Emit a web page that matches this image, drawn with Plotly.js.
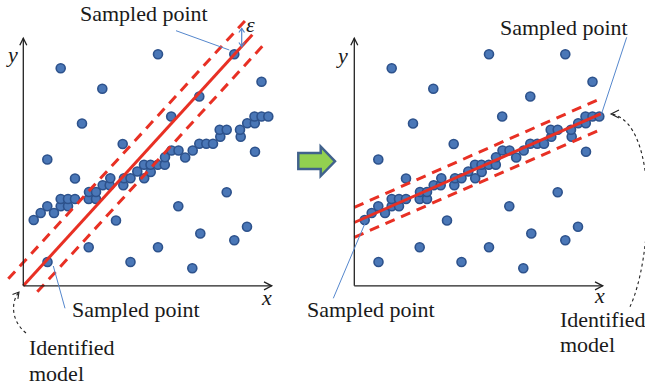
<!DOCTYPE html>
<html>
<head>
<meta charset="utf-8">
<script src="https://cdn.plot.ly/plotly-3.0.1.min.js"></script>
<style>html,body{margin:0;padding:0;background:#fff;}#chart{width:645px;height:389px;}</style>
</head>
<body>
<div id="chart"></div>
<script>
// Point cloud (same data shown in both panels), units: axis-length scale
const inlierX = [10.4,17.4,30.7,24.0,37.4,44.7,37.4,44.7,51.7,65.4,72.7,65.7,72.7,79.4,86.4,100.0,87.0,100.7,107.2,120.9,114.0,127.4,120.7,127.2,134.5,141.5,141.7,161.9,148.2,155.2,169.4,176.0,183.0,189.7,197.0,217.4,196.4,203.4,216.7,223.9,231.5,231.2,238.2,245.0];
const inlierY = [65.8,72.8,72.8,79.5,79.5,79.5,86.8,86.8,86.8,86.8,86.8,93.8,93.8,100.5,100.5,100.5,107.5,107.5,107.5,107.5,114.3,113.8,121.0,121.0,121.0,121.0,128.5,128.3,135.3,135.3,135.3,142.0,142.0,142.0,149.1,149.0,156.0,156.0,156.0,162.5,162.5,169.3,169.3,169.3];
const outlierX = [37.4,79.0,58.7,99.4,24.0,51.7,134.7,211.0,238.2,176.0,147.9,231.7,203.4,155.0,92.7,177.0,223.7,211.0,65.4,134.7,107.2,169.0,24.2];
const outlierY = [217.5,197.1,162.3,141.8,126.3,107.3,231.5,231.5,204.1,189.3,169.3,134.1,93.6,79.6,65.3,52.3,59.0,45.5,38.5,38.5,23.8,17.6,23.8];

// Candidate model (left) and identified model (right), with ±epsilon bands
const leftModelX = [0, 229];
const leftModelY = [0, 251];
const leftUpperX = [-15, 221.7];
const leftUpperY = [7, 265];
const leftLowerX = [14, 241.7];
const leftLowerY = [-6, 242.5];

const rightModelX = [0, 246.4];
const rightModelY = [63.3, 172];
const rightUpperX = [0, 247.4];
const rightUpperY = [78.5, 187.7];
const rightLowerX = [0, 247.4];
const rightLowerY = [48.5, 156.7];

const labelSampled = 'Sampled point';
const labelIdentified = 'Identified';
const labelModel = 'model';

const RED = 'rgb(232,48,36)';
const BLUE_LEADER = 'rgb(85,135,205)';
const TXT = '#1a1a1a';
const FONT = '"Liberation Serif", "Times New Roman", "DejaVu Serif", serif';

const allX = inlierX.concat(outlierX);
const allY = inlierY.concat(outlierY);

function pts(xa, ya) {
  return {x: allX, y: allY, xaxis: xa, yaxis: ya, mode: 'markers', type: 'scatter',
    marker: {size: 9, color: '#4a77b7', line: {color: '#2d528c', width: 1.6}},
    hoverinfo: 'skip', showlegend: false, cliponaxis: false};
}
function ln(x, y, xa, ya, dash) {
  return {x: x, y: y, xaxis: xa, yaxis: ya, mode: 'lines', type: 'scatter',
    line: {color: RED, width: 3, dash: dash ? '10px,7px' : 'solid'},
    hoverinfo: 'skip', showlegend: false};
}

const data = [
  pts('x', 'y'), pts('x2', 'y2'),
  ln(leftModelX, leftModelY, 'x', 'y', false),
  ln(leftUpperX, leftUpperY, 'x', 'y', true),
  ln(leftLowerX, leftLowerY, 'x', 'y', true),
  ln(rightModelX, rightModelY, 'x2', 'y2', false),
  ln(rightUpperX, rightUpperY, 'x2', 'y2', true),
  ln(rightLowerX, rightLowerY, 'x2', 'y2', true)
];

function ax(domain, range, anchor) {
  return {domain: domain, range: range, anchor: anchor, visible: false, fixedrange: true,
    showgrid: false, zeroline: false};
}

function txt(x, y, xr, yr, t, opts) {
  return Object.assign({x: x, y: y, xref: xr, yref: yr, text: t, showarrow: false,
    font: {family: FONT, size: 22, color: TXT}, xanchor: 'center', yanchor: 'middle'}, opts || {});
}

const axisLine = {color: '#222', width: 1.3};
const shapes = [
  // left axes
  {type: 'line', xref: 'x', yref: 'y', x0: 0, y0: 0, x1: 0, y1: 247.5, line: axisLine},
  {type: 'line', xref: 'x', yref: 'y', x0: 0, y0: 0, x1: 248.4, y1: 0, line: axisLine},
  {type: 'path', xref: 'x', yref: 'y', path: 'M -3.5,240.5 L 0,247.5 L 3.5,240.5', line: axisLine},
  {type: 'path', xref: 'x', yref: 'y', path: 'M 240.7,4 L 248.4,0 L 240.7,-4', line: axisLine},
  // right axes
  {type: 'line', xref: 'x2', yref: 'y2', x0: 0, y0: 0, x1: 0, y1: 247.5, line: axisLine},
  {type: 'line', xref: 'x2', yref: 'y2', x0: 0, y0: 0, x1: 248.4, y1: 0, line: axisLine},
  {type: 'path', xref: 'x2', yref: 'y2', path: 'M -3.5,240.5 L 0,247.5 L 3.5,240.5', line: axisLine},
  {type: 'path', xref: 'x2', yref: 'y2', path: 'M 240.7,4 L 248.4,0 L 240.7,-4', line: axisLine},
  // leaders
  {type: 'line', xref: 'x', yref: 'y', x0: 152.7, y0: 255.1, x1: 206, y1: 235.8, line: {color: BLUE_LEADER, width: 1}},
  {type: 'line', xref: 'x', yref: 'y', x0: 30, y0: 19.8, x1: 41.7, y1: -22.5, line: {color: BLUE_LEADER, width: 1}},
  {type: 'line', xref: 'x2', yref: 'y2', x0: 272.4, y0: 248.5, x1: 247.4, y1: 172.5, line: {color: BLUE_LEADER, width: 1}},
  {type: 'line', xref: 'x2', yref: 'y2', x0: 10.7, y0: 62.5, x1: -21, y1: -12.5, line: {color: BLUE_LEADER, width: 1}},
  // epsilon double arrow
  {type: 'line', xref: 'x', yref: 'y', x0: 218.4, y0: 239.5, x1: 218.4, y1: 257.3, line: {color: BLUE_LEADER, width: 1.2}},
  {type: 'path', xref: 'x', yref: 'y', path: 'M 215.6,253.3 L 218.4,257.5 L 221.2,253.3', line: {color: BLUE_LEADER, width: 1.2}},
  {type: 'path', xref: 'x', yref: 'y', path: 'M 215.6,243.3 L 218.4,239.1 L 221.2,243.3', line: {color: BLUE_LEADER, width: 1.2}},
  // identified model dashed curved arrows
  {type: 'path', xref: 'x', yref: 'y', path: 'M 2.7,-47.2 C -11.3,-36.2 -13.3,-17.2 -4.3,-6.2', line: {color: '#222', width: 1.1, dash: '3px,3px'}},
  {type: 'path', xref: 'x', yref: 'y', path: 'M -5.4,-13 L -4.3,-6.2 L -10.8,-8.6', line: {color: '#222', width: 1.1}},
  {type: 'path', xref: 'x2', yref: 'y2', path: 'M 275.7,-20.9 C 297.7,25.8 305.7,160.8 257.7,171.8', line: {color: '#222', width: 1.1, dash: '3px,3px'}},
  {type: 'path', xref: 'x2', yref: 'y2', path: 'M 264.7,175.8 L 256.7,171.8 L 264.7,167.8', line: {color: '#222', width: 1.1}},
  // green arrow between panels
  {type: 'path', xref: 'x', yref: 'y', path: 'M 275,132.8 L 297.4,132.8 L 297.4,139.3 L 311.7,124.5 L 297.4,109.8 L 297.4,116.8 L 275,116.8 Z',
    fillcolor: 'rgb(146,208,80)', line: {color: '#41628c', width: 2.5}}
];

const annotations = [
  txt(120.2, 272.8, 'x', 'y', labelSampled),
  txt(112.5, -23.2, 'x', 'y', labelSampled),
  txt(3.4, -61.6, 'x', 'y', labelIdentified, {xanchor: 'left'}),
  txt(3.4, -87.2, 'x', 'y', labelModel, {xanchor: 'left'}),
  txt(209.9, 258.4, 'x2', 'y2', labelSampled),
  txt(16.5, -23.2, 'x2', 'y2', labelSampled),
  txt(204, -33.2, 'x2', 'y2', labelIdentified, {xanchor: 'left'}),
  txt(204, -58.2, 'x2', 'y2', labelModel, {xanchor: 'left'}),
  txt(-11.6, 231.8, 'x', 'y', '<i>y</i>'),
  txt(243.4, -11.2, 'x', 'y', '<i>x</i>'),
  txt(-12.6, 230.1, 'x2', 'y2', '<i>y</i>'),
  txt(245, -9.9, 'x2', 'y2', '<i>x</i>'),
  txt(226.7, 261.8, 'x', 'y', '<i>ε</i>')
];

const layout = {
  width: 645, height: 389, margin: {l: 0, r: 0, t: 0, b: 0},
  paper_bgcolor: '#fff', plot_bgcolor: 'rgba(0,0,0,0)',
  showlegend: false, hovermode: false,
  xaxis: ax([0, 345 / 645], [-23.3, 321.7], 'y'),
  yaxis: ax([0, 1], [-103.2, 285.8], 'x'),
  xaxis2: ax([300 / 645, 1], [-54.3, 290.7], 'y2'),
  yaxis2: ax([0, 1], [-103.2, 285.8], 'x2'),
  shapes: shapes,
  annotations: annotations
};

Plotly.newPlot('chart', data, layout, {displayModeBar: false, staticPlot: true});
</script>
</body>
</html>
